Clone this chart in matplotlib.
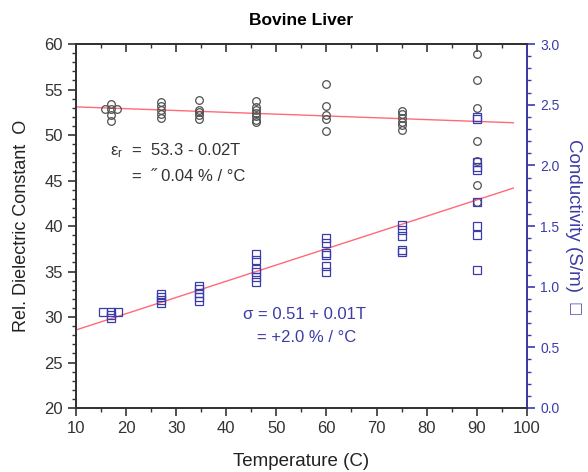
import numpy as np
import matplotlib as mpl
mpl.use('Agg')
import matplotlib.pyplot as plt
from matplotlib.ticker import MultipleLocator

plt.rcParams['font.family'] = ['Liberation Sans', 'DejaVu Sans']
plt.rcParams['mathtext.fontset'] = 'custom'
plt.rcParams['mathtext.rm'] = 'Liberation Sans'
plt.rcParams['mathtext.it'] = 'Liberation Sans'

# relative permittivity (circles, left axis)
eps_temp = [15.8, 17, 17, 18.2, 17, 17,
            27, 27, 27, 27, 27,
            34.5, 34.5, 34.5, 34.5, 34.5,
            46, 46, 46, 46, 46, 46, 46,
            60, 60, 60, 60, 60,
            75, 75, 75, 75, 75, 75,
            90, 90, 90, 90, 90, 90, 90]
eps_val = [52.9, 53.4, 52.9, 52.9, 52.2, 51.5,
           53.6, 53.2, 52.7, 52.3, 51.9,
           53.8, 52.8, 52.5, 52.2, 51.8,
           53.7, 53.1, 52.8, 52.4, 52.1, 51.7, 51.4,
           55.6, 53.2, 52.2, 51.8, 50.4,
           52.6, 52.3, 51.9, 51.4, 51.1, 50.6,
           58.9, 56.0, 53.0, 49.3, 47.2, 44.5, 42.6]

# conductivity (squares, right axis)
sig_temp = [15.5, 17, 18.5, 17, 17,
            27, 27, 27, 27,
            34.5, 34.5, 34.5, 34.5, 34.5,
            46, 46, 46, 46, 46, 46,
            60, 60, 60, 60, 60, 60,
            75, 75, 75, 75, 75,
            90, 90, 90, 90, 90, 90, 90, 90, 90]
sig_val = [0.79, 0.79, 0.79, 0.767, 0.745,
           0.937, 0.918, 0.890, 0.863,
           1.006, 0.978, 0.945, 0.912, 0.882,
           1.267, 1.220, 1.146, 1.124, 1.077, 1.041,
           1.404, 1.363, 1.280, 1.261, 1.173, 1.124,
           1.509, 1.467, 1.418, 1.303, 1.284,
           2.40, 2.38, 2.03, 1.99, 1.96, 1.70, 1.50, 1.426, 1.14]

# linear fits
eps_fit = (53.3, -0.02)
sig_fit = (0.509, 0.0134)
fit_range = (10, 97.3)

red = '#ff6a78'
blue = '#3c3ca8'
gray = '#505050'

fig = plt.figure(figsize=(5.88, 4.72), dpi=100)
ax = fig.add_axes([0.129, 0.1356, 0.767, 0.771])
ax2 = ax.twinx()

t = np.linspace(fit_range[0], fit_range[1], 50)
ax.plot(t, eps_fit[0] + eps_fit[1] * t, color=red, lw=1.0, zorder=2)
ax.plot(eps_temp, eps_val, 'o', ms=5.5, mfc='none', mec=gray, mew=0.9, zorder=3)
ax2.plot(t, sig_fit[0] + sig_fit[1] * t, color=red, lw=1.0, zorder=2)
ax2.plot(sig_temp, sig_val, 's', ms=5.5, mfc='none', mec=blue, mew=0.9, zorder=3)

ax.set_xlim(10, 100)
ax.set_ylim(20, 60)
ax2.set_ylim(0, 3.0)

ax.xaxis.set_major_locator(MultipleLocator(10))
ax.xaxis.set_minor_locator(MultipleLocator(5))
ax.yaxis.set_major_locator(MultipleLocator(5))
ax.yaxis.set_minor_locator(MultipleLocator(1))
ax2.yaxis.set_major_locator(MultipleLocator(0.5))
ax2.yaxis.set_minor_locator(MultipleLocator(0.1))
ax2.yaxis.set_major_formatter(mpl.ticker.FormatStrFormatter('%.1f'))

ax.tick_params(axis='both', which='major', length=6, width=1.2, labelsize=12, colors='#333333')
ax.tick_params(axis='both', which='minor', length=3, width=1.0, colors='#333333')
ax2.tick_params(axis='y', which='major', length=6, width=1.2, labelsize=10, colors=blue)
ax2.tick_params(axis='y', which='minor', length=3, width=1.0, colors=blue)

top = ax.secondary_xaxis('top')
top.xaxis.set_major_locator(MultipleLocator(10))
top.xaxis.set_minor_locator(MultipleLocator(5))
top.tick_params(which='major', direction='in', length=6, width=1.2, colors='#333333')
top.tick_params(which='minor', direction='in', length=3, width=1.0, colors='#333333')
top.set_xticklabels([])

for a in (ax, ax2):
    for s in a.spines.values():
        s.set_linewidth(1.3)
        s.set_color('#333333')
ax2.spines['right'].set_color(blue)
top.spines['top'].set_linewidth(1.3)
top.spines['top'].set_color('#333333')

ax.set_title('Bovine Liver', fontsize=12.5, fontweight='bold', pad=14)
ax.set_xlabel('Temperature (C)', fontsize=13.5, labelpad=12, color='#222222')
ax.set_ylabel('Rel. Dielectric Constant  O', fontsize=13, color='#222222', labelpad=10)
ax2.set_ylabel('Conductivity (S/m)  \u25a1', fontsize=13.5, color=blue, rotation=-90, labelpad=16)

ax.text(16.8, 48.3, '\u03b5$_r$  =  53.3 - 0.02T', fontsize=12, color='#333333', va='center')
ax.text(21.2, 45.4, '=  \u02dd 0.04 % / \u00b0C', fontsize=12, color='#333333', va='center')
ax.text(43.3, 30.3, '\u03c3 = 0.51 + 0.01T', fontsize=12, color=blue, va='center')
ax.text(46.1, 27.7, '= +2.0 % / \u00b0C', fontsize=12, color=blue, va='center')

fig.savefig('out.png', dpi=100)
